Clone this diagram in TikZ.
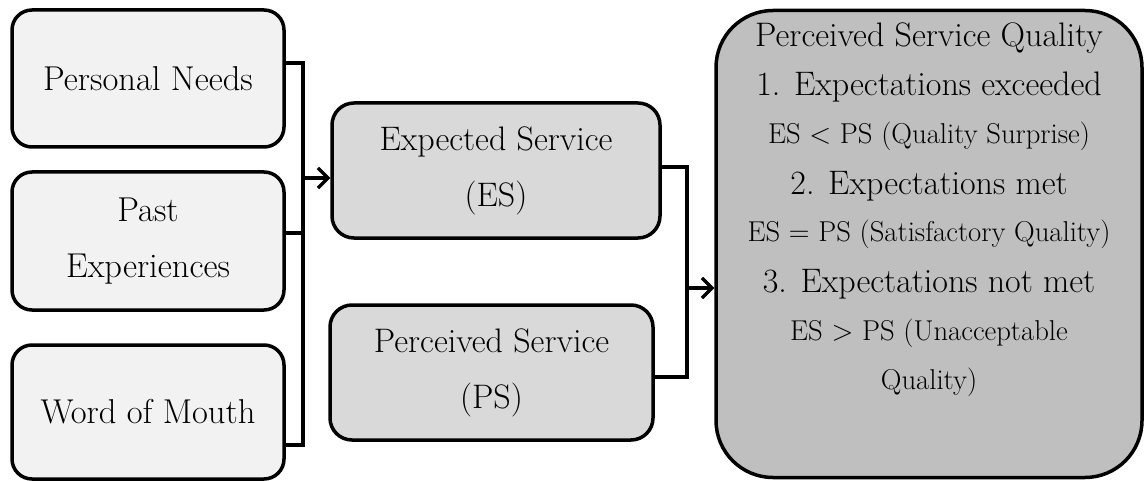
\documentclass[tikz,border=0pt]{standalone}
\usetikzlibrary{arrows.meta}
\definecolor{boxlight}{HTML}{F2F2F2}
\definecolor{boxmid}{HTML}{D9D9D9}
\definecolor{boxdark}{HTML}{BFBFBF}
\tikzset{
  inbox/.style={draw=black, line width=3.5pt, fill=boxlight, rounded corners=20pt,
    minimum width=272pt, minimum height=137pt, align=center, inner sep=0pt,
    font=\fontsize{34.5}{56}\selectfont},
  midbox/.style={draw=black, line width=3.5pt, fill=boxmid, rounded corners=22pt,
    align=center, inner sep=0pt, font=\fontsize{34}{56}\selectfont},
  bigbox/.style={draw=black, line width=3.5pt, fill=boxdark, rounded corners=57pt,
    inner sep=0pt},
  headline/.style={anchor=base, inner sep=0pt, font=\fontsize{34}{40}\selectfont},
  eqline/.style={anchor=base, inner sep=0pt, font=\fontsize{28.7}{34}\selectfont},
  conn/.style={line width=3.3pt, line join=miter},
  arr/.style={conn, -{Straight Barb[length=10pt,width=20pt,line width=3.3pt]}}
}
\begin{document}
\begin{tikzpicture}[x=1pt,y=-1pt]
\useasboundingbox (0,0) rectangle (1145,481);
% left boxes
\node[inbox] (pn) at (148,78.5) {Personal Needs};
\node[inbox, minimum height=138pt] (pe) at (148,241) {Past\\Experiences};
\node[inbox, minimum height=134pt] (wm) at (148,412) {Word of Mouth};
% middle boxes
\node[midbox, minimum width=328pt, minimum height=135pt] (es) at (496,170.5) {Expected Service\\(ES)};
\node[midbox, minimum width=323pt, minimum height=135pt] (ps) at (491.5,372.5) {Perceived Service\\(PS)};
% big box
\node[bigbox, minimum width=426pt, minimum height=467pt] (psq) at (929,244) {};
\node[headline] (q1) at (929,47) {Perceived Service Quality};
\node[headline] (q2) at (929,96) {1. Expectations exceeded};
\node[eqline] (q3) at (929,143.5) {ES < PS (Quality Surprise)};
\node[headline] (q4) at (929,194) {2. Expectations met};
\node[eqline] (q5) at (929,241.5) {ES = PS (Satisfactory Quality)};
\node[headline] (q6) at (929,292) {3. Expectations not met};
\node[eqline] (q7) at (929,340.5) {ES > PS (Unacceptable};
\node[eqline] (q8) at (929,389.5) {Quality)};
% left bracket
\coordinate (b1) at (303,63);
\coordinate (b2) at (303,233);
\coordinate (b3) at (303,445);
\coordinate (b4) at (303,178);
\draw[conn] (pn.east |- b1) -- (b1) -- (b3) -- (wm.east |- b3);
\draw[conn] (pe.east |- b2) -- (b2);
\draw[arr] (b4) -- (es.west |- b4);
% right bracket
\coordinate (c1) at (687,167);
\coordinate (c2) at (687,377);
\coordinate (c3) at (687,288);
\draw[conn] (es.east |- c1) -- (c1) -- (c2) -- ([xshift=-3pt]ps.east |- c2);
\draw[arr] (c3) -- (psq.west |- c3);
\end{tikzpicture}
\end{document}
